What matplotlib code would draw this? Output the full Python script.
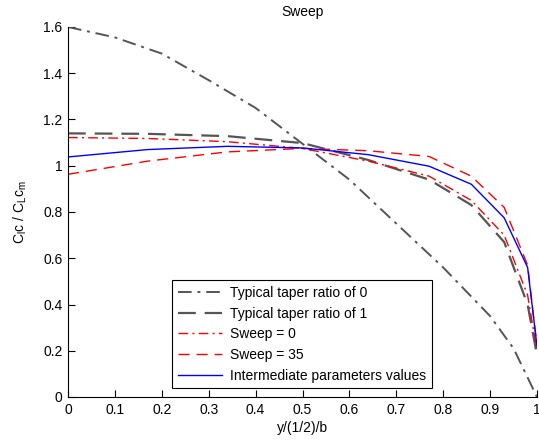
import numpy as np
import matplotlib.pyplot as plt
from matplotlib.ticker import FormatStrFormatter

plt.rcParams['font.family'] = ['Liberation Sans', 'DejaVu Sans']
plt.rcParams['font.size'] = 10

# span stations (y/(b/2))
span = [0, 0.17, 0.34, 0.5, 0.64, 0.77, 0.86, 0.93, 0.98, 1.0]
span_t0 = [0, 0.1, 0.2, 0.3, 0.4, 0.5, 0.6, 0.7, 0.8, 0.9, 0.95, 1.0]

# spanwise load distributions
taper0 = [1.60, 1.555, 1.485, 1.37, 1.25, 1.095, 0.94, 0.75, 0.56, 0.35, 0.21, 0.0]
taper1 = [1.14, 1.138, 1.128, 1.098, 1.025, 0.94, 0.83, 0.67, 0.40, 0.18]
sweep0 = [1.122, 1.118, 1.104, 1.075, 1.02, 0.955, 0.85, 0.70, 0.44, 0.20]
sweep35 = [0.963, 1.02, 1.06, 1.075, 1.065, 1.04, 0.955, 0.82, 0.57, 0.22]
intermediate = [1.038, 1.07, 1.084, 1.077, 1.048, 0.998, 0.92, 0.775, 0.56, 0.22]

labels = ['Typical taper ratio of 0', 'Typical taper ratio of 1',
          'Sweep = 0', 'Sweep = 35', 'Intermediate parameters values']

fig = plt.figure(figsize=(5.39, 4.40), dpi=100)
ax = fig.add_axes([68 / 539, 1 - 397 / 440, 469 / 539, 370 / 440])

gray = '#555555'
ax.plot(span_t0, taper0, color=gray, lw=1.4, dashes=(7, 3, 1.5, 3), label=labels[0])
ax.plot(span, taper1, color=gray, lw=1.6, dashes=(8, 4), label=labels[1])
ax.plot(span, sweep0, color='red', lw=1.0, dashes=(7, 3, 1.5, 3), label=labels[2])
ax.plot(span, sweep35, color='red', lw=1.0, dashes=(8, 5), label=labels[3])
ax.plot(span, intermediate, color='blue', lw=1.0, label=labels[4])

ax.set_xlim(0, 1)
ax.set_ylim(0, 1.6)
ax.set_xticks(np.arange(0, 1.01, 0.1))
ax.set_yticks(np.arange(0, 1.61, 0.2))
ax.xaxis.set_major_formatter(FormatStrFormatter('%g'))
ax.yaxis.set_major_formatter(FormatStrFormatter('%g'))
ax.tick_params(direction='in', length=5, width=0.8, labelsize=10, pad=4)
ax.spines['top'].set_visible(False)
ax.spines['right'].set_visible(False)

ax.set_title('Sweep', fontsize=10, pad=8)
ax.set_xlabel('y/(1/2)/b', labelpad=3)
ax.set_ylabel(r'C$\mathregular{_l}$c / C$\mathregular{_L}$c$\mathregular{_m}$', labelpad=10)

leg = ax.legend(loc='lower left', bbox_to_anchor=(0.222, 0.024), borderaxespad=0,
                fancybox=False, edgecolor='black', framealpha=1,
                handlelength=3.2, labelspacing=0.48, borderpad=0.4, handletextpad=0.6)
leg.get_frame().set_linewidth(0.8)

fig.savefig('out.png', dpi=100)
